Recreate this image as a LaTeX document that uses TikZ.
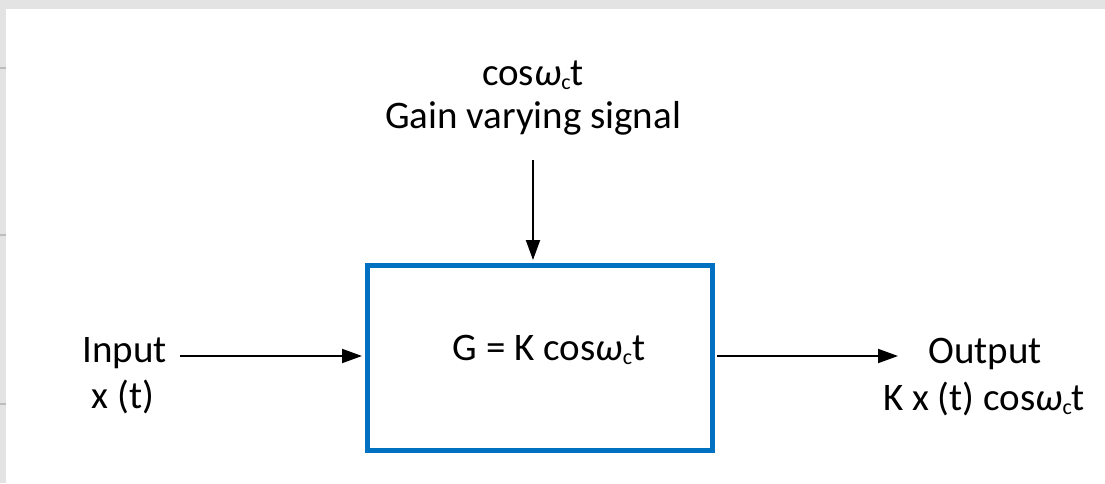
\documentclass[tikz,border=0pt]{standalone}
\usepackage{fontspec}
\setmainfont{Carlito}
\usetikzlibrary{arrows.meta}
\definecolor{boxblue}{HTML}{0070C0}
\definecolor{bandgray}{HTML}{E3E3E3}
\definecolor{tickgray}{HTML}{BDBDBD}
\newcommand{\coswct}{cos{\itshape ω}\raisebox{-0.12em}{\fontsize{22}{22}\selectfont c}t}
\begin{document}
\begin{tikzpicture}[x=1pt,y=-1pt,font=\fontsize{39}{43}\selectfont,
  lbl/.style={inner sep=0pt,anchor=base},
  conn/.style={line width=2pt,-{Triangle[length=20pt,width=14pt]}},
  block/.style={draw=boxblue,line width=5pt,minimum width=345pt,minimum height=185pt,inner sep=0pt}]
\fill[white] (0,0) rectangle (1105,483);
\useasboundingbox (0,0) rectangle (1105,483);
\fill[bandgray] (0,0) rectangle (1105,9);
\fill[bandgray] (0,0) rectangle (6,483);
\fill[tickgray] (0,66.5) rectangle (6,68.5);
\fill[tickgray] (0,234) rectangle (6,236);
\fill[tickgray] (0,403) rectangle (6,405);
\node[block] (box) at (539.5,357.5) {};
\node[lbl] (g) at (549,360) {G = K \coswct};
\node[lbl] (sig1) at (533,85) {\coswct};
\node[lbl] (sig2) at (533,128) {Gain varying signal};
\node[lbl] (in1) at (124.5,362) {Input};
\node[lbl] (in2) at (123,408) {x (t)};
\node[lbl] (out1) at (985,363) {Output};
\node[lbl] (out2) at (984,410) {K x (t) \coswct};
\coordinate (ts) at (533,160);
\coordinate (is) at (180,356);
\coordinate (oe) at (898,356);
\draw[conn,shorten >=2.5pt] (ts) -- (ts |- box.north);
\draw[conn,shorten >=2.5pt] (is) -- (is -| box.west);
\draw[conn,shorten <=2.5pt] (oe -| box.east) -- (oe);
\end{tikzpicture}
\end{document}
